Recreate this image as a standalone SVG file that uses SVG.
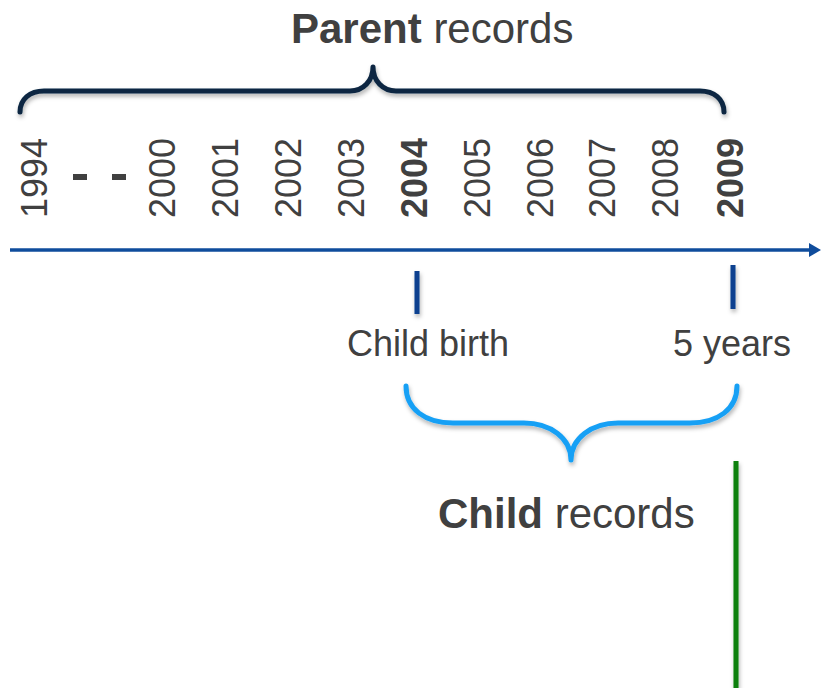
<svg xmlns="http://www.w3.org/2000/svg" width="821" height="688" viewBox="0 0 821 688">
  <style>
    .t { font-family: "Liberation Sans", Arial, sans-serif; fill: #404040; }
    .yr { font-size: 36px; }
    .b { font-weight: bold; }
    .lbl { font-size: 36px; }
    .ttl { font-size: 42px; }
    .tick { stroke: #0d3f8f; stroke-width: 5; }
    .brace { fill: none; stroke-width: 5; stroke-linecap: round; stroke-linejoin: round; }
  </style>
  <defs>
    <filter id="sh" filterUnits="userSpaceOnUse" x="0" y="0" width="821" height="688">
      <feDropShadow dx="1" dy="3" stdDeviation="2" flood-color="#000" flood-opacity="0.3"/>
    </filter>
  </defs>

  <g id="parent-title">
    <text class="t ttl" x="291" y="43"><tspan class="b">Parent</tspan> records</text>
  </g>

  <g id="years">
    <text class="t yr" transform="translate(47,218) rotate(-90)">1994</text>
    <line x1="73" y1="177" x2="87" y2="177" stroke="#404040" stroke-width="6"/>
    <line x1="112" y1="177" x2="126" y2="177" stroke="#404040" stroke-width="6"/>
    <text class="t yr" transform="translate(175,218) rotate(-90)">2000</text>
    <text class="t yr" transform="translate(238,218) rotate(-90)">2001</text>
    <text class="t yr" transform="translate(301,218) rotate(-90)">2002</text>
    <text class="t yr" transform="translate(364,218) rotate(-90)">2003</text>
    <text class="t yr b" transform="translate(427,218) rotate(-90)">2004</text>
    <text class="t yr" transform="translate(490,218) rotate(-90)">2005</text>
    <text class="t yr" transform="translate(553,218) rotate(-90)">2006</text>
    <text class="t yr" transform="translate(615,218) rotate(-90)">2007</text>
    <text class="t yr" transform="translate(678,218) rotate(-90)">2008</text>
    <text class="t yr b" transform="translate(743,218) rotate(-90)">2009</text>
  </g>

  <g id="child-birth">
    <text class="t lbl" x="347" y="356">Child birth</text>
  </g>
  <g id="five-years">
    <text class="t lbl" x="673" y="356">5 years</text>
  </g>
  <g id="child-title">
    <text class="t ttl" x="438" y="528"><tspan class="b">Child</tspan> records</text>
  </g>

  <g id="connectors">
    <line x1="10" y1="250" x2="810" y2="250" stroke="#0f4c9c" stroke-width="3.5"/>
    <polygon points="809,243 821,250 809,257" fill="#0f4c9c"/>
    <line class="tick" x1="417" y1="271" x2="417" y2="314" filter="url(#sh)"/>
    <line class="tick" x1="733" y1="265" x2="733" y2="309" filter="url(#sh)"/>
    <path class="brace" stroke="#0b2742" filter="url(#sh)" d="M20,112 C20,99 30,91 44,91 L350,91 C363,91 373,81 373,67 C373,81 383,91 396,91 L700,91 C714,91 724,99 724,112"/>
    <path class="brace" stroke="#18a0f5" filter="url(#sh)" d="M406,386 C406,409 425,423 453,423 L524,423 C550,423 571,438 571,460 C571,438 592,423 618,423 L690,423 C718,423 737,409 737,386"/>
    <line x1="736" y1="461" x2="736" y2="688" stroke="#0a800a" stroke-width="5" filter="url(#sh)"/>
  </g>
</svg>
